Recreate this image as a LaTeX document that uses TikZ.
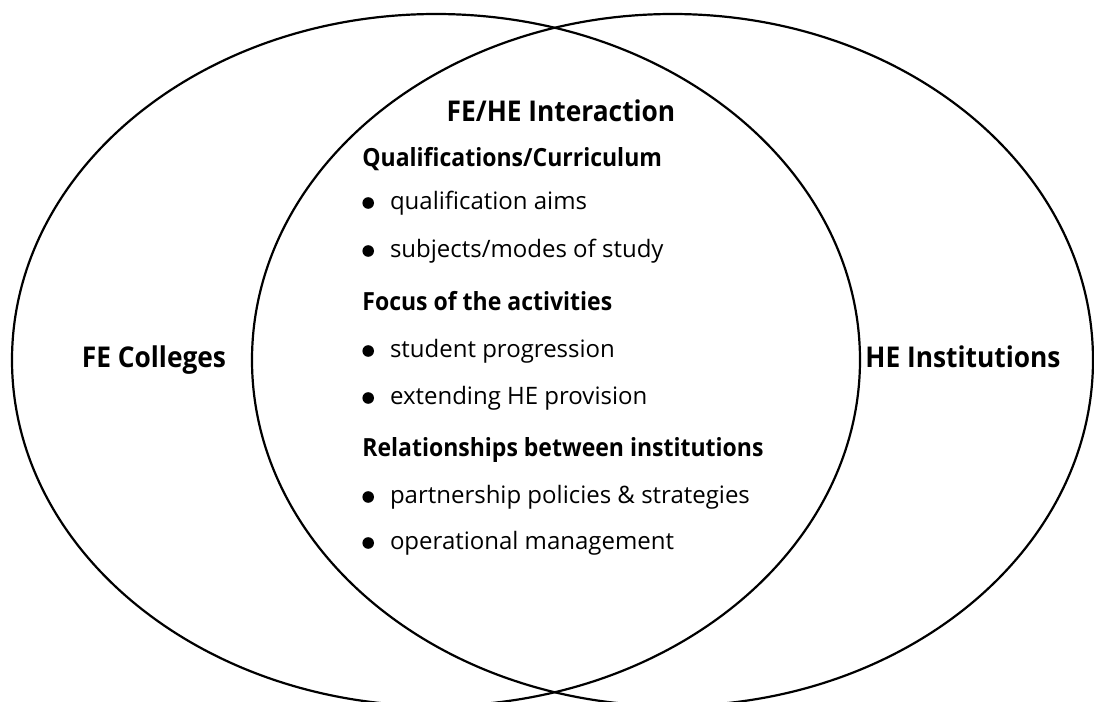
\documentclass[tikz,border=0pt]{standalone}
\usepackage{fontspec}
\setmainfont{Open Sans}
\newfontfamily\headfont{Open Sans}[FakeStretch=0.92]
\usetikzlibrary{positioning}

\newcommand{\blt}{\tikz[baseline=-3pt]\fill (0,0) circle (2.9pt);\hspace{8pt}}

\begin{document}
\begin{tikzpicture}[x=0.5pt, y=-0.5pt,
    ring/.style  = {draw, line width=1.1pt},
    side/.style  = {font=\headfont\bfseries\fontsize{14.3}{16}\selectfont, inner sep=0pt},
    head/.style  = {font=\headfont\bfseries\fontsize{12.5}{14}\selectfont, inner sep=0pt, anchor=base west},
    item/.style  = {font=\fontsize{12}{14}\selectfont, inner sep=0pt, anchor=base west}]
    \useasboundingbox (0,0) rectangle (1094,702);

    % the two sets
    \draw[ring] (436,360)   ellipse [x radius=212pt,    y radius=173pt];
    \draw[ring] (672.5,360) ellipse [x radius=210.25pt, y radius=173pt];

    \node[side] (fe) at (154,360) {FE Colleges};
    \node[side] (he) at (963,357) {HE Institutions};

    % overlap
    \node[side, anchor=base] (mid) at (561,121) {FE/HE Interaction};

    \node[head] (qual)                                  at (362,166) {Qualifications/Curriculum};
    \node[item] (aims) [below=21.5pt of qual.base west, anchor=base west] {\blt qualification aims};
    \node[item] (subj) [below=24pt   of aims.base west, anchor=base west] {\blt subjects/modes of study};

    \node[head] (focus) [below=26.5pt of subj.base west, anchor=base west] {Focus of the activities};
    \node[item] (prog)  [below=23.5pt of focus.base west, anchor=base west] {\blt student progression};
    \node[item] (prov)  [below=23.5pt of prog.base west,  anchor=base west] {\blt extending HE provision};

    \node[head] (rel)   [below=26pt   of prov.base west, anchor=base west] {Relationships between institutions};
    \node[item] (pol)   [below=23.5pt of rel.base west,  anchor=base west] {\blt partnership policies \& strategies};
    \node[item] (man)   [below=23pt   of pol.base west,  anchor=base west] {\blt operational management};
\end{tikzpicture}
\end{document}
